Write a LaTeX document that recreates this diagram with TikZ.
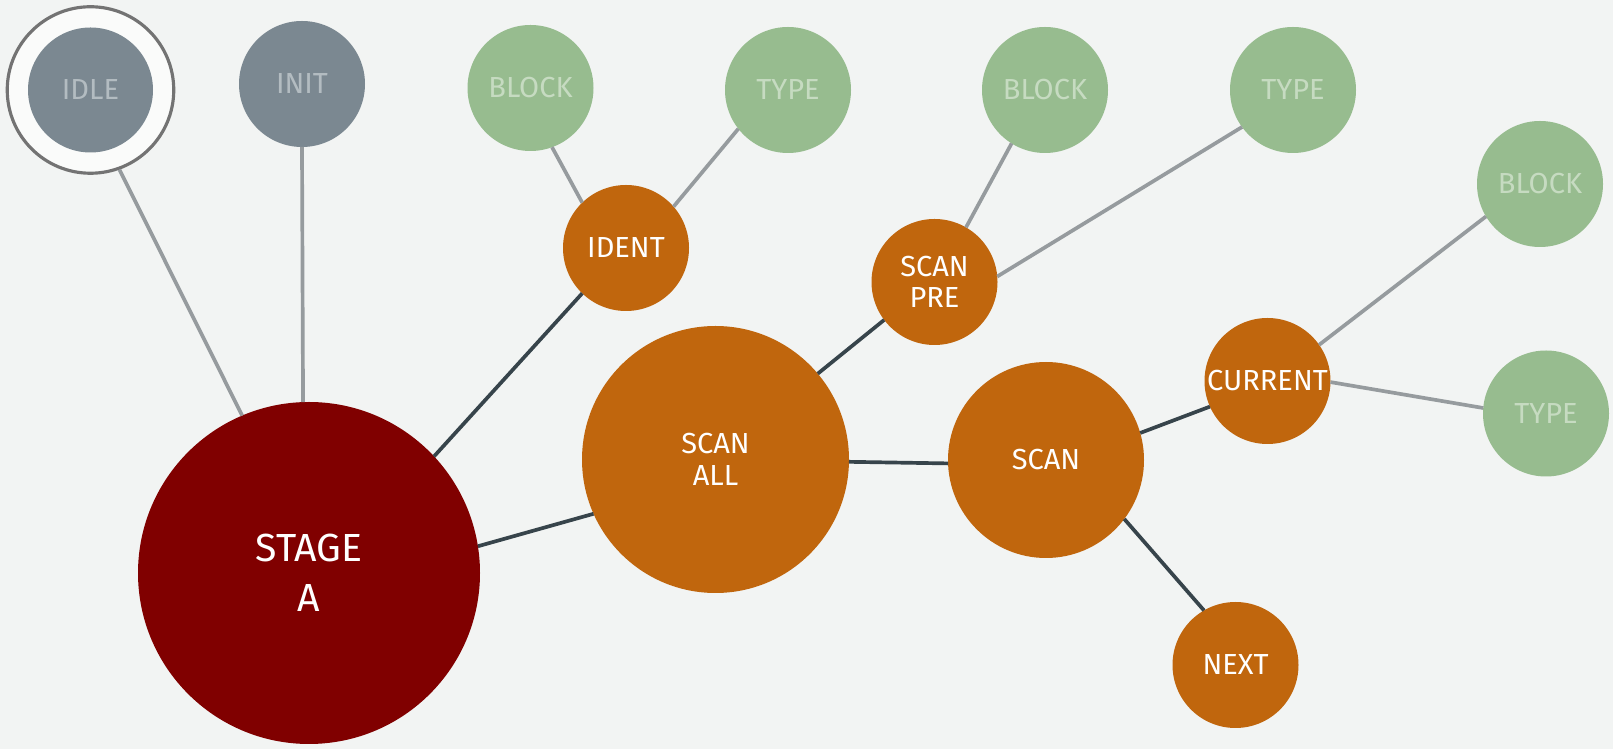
\documentclass[tikz,border=0pt]{standalone}
\usepackage{fontspec}
\setmainfont{Fira Sans}
\definecolor{paper}{HTML}{F2F4F3}
\definecolor{slate}{HTML}{7B8891}
\definecolor{slatetext}{HTML}{B3BCC1}
\definecolor{sage}{HTML}{97BC8F}
\definecolor{sagetext}{HTML}{C6DBC1}
\definecolor{rust}{HTML}{C0660D}
\definecolor{maroon}{HTML}{800000}
\definecolor{darkline}{HTML}{37444B}
\definecolor{lightline}{HTML}{969B9E}
\begin{document}
\begin{tikzpicture}[
  bubble/.style={circle, inner sep=0pt, outer sep=0pt, minimum size=2.52cm, align=center,
    font=\fontsize{16.5}{18}\selectfont},
  slatenode/.style={bubble, fill=slate, text=slatetext},
  leaf/.style={bubble, fill=sage, text=sagetext},
  task/.style={bubble, fill=rust, text=white},
  strong/.style={line width=2.1pt, draw=darkline},
  weak/.style={line width=2.1pt, draw=lightline}]
\fill[paper] (0,0) rectangle (32.26,14.98);
\useasboundingbox (0,0) rectangle (32.26,14.98);
% nodes
\node[circle, fill=white!60!paper, draw=gray!90!black, line width=1.8pt, minimum size=3.33cm] (idlering) at (1.81,13.18) {};
\node[slatenode, minimum size=2.5cm] (idle) at (1.81,13.18) {IDLE};
\node[slatenode] (init) at (6.04,13.30) {INIT};
\node[bubble, fill=maroon, text=white, minimum size=6.84cm, font=\fontsize{22.3}{28.5}\selectfont] (stage) at (6.18,3.52) {STAGE\\A};
\node[task] (ident) at (12.52,10.02) {IDENT};
\node[leaf] (block1) at (10.61,13.22) {BLOCK};
\node[leaf] (type1) at (15.76,13.18) {TYPE};
\node[task, minimum size=5.34cm] (scanall) at (14.31,5.79) {SCAN\\ALL};
\node[task] (scanpre) at (18.69,9.34) {SCAN\\PRE};
\node[leaf] (block2) at (20.90,13.18) {BLOCK};
\node[leaf] (type2) at (25.86,13.18) {TYPE};
\node[task, minimum size=3.92cm] (scan) at (20.92,5.78) {SCAN};
\node[task] (current) at (25.35,7.36) {CURRENT};
\node[task] (next) at (24.71,1.68) {NEXT};
\node[leaf] (block3) at (30.80,11.30) {BLOCK};
\node[leaf] (type3) at (30.92,6.71) {TYPE};
% links
\draw[weak] (idlering.290) -- (stage.113);
\draw[weak] (init.south) -- (stage.92);
\draw[strong] (stage.43) -- (ident.226);
\draw[strong] (stage.9) -- (scanall.204);
\draw[weak] (ident.134) -- (block1.290);
\draw[weak] (ident.41) -- (type1.218);
\draw[strong] (scanall.40) -- (scanpre.217);
\draw[strong] (scanall.359) -- (scan.182);
\draw[weak] (scanpre.60) -- (block2.238);
\draw[weak] (scanpre.5) -- (type2.216);
\draw[strong] (scan.16) -- (current.204);
\draw[strong] (scan.323) -- (next.120);
\draw[weak] (current.35) -- (block3.211);
\draw[weak] (current.359) -- (type3.175);
\end{tikzpicture}
\end{document}
